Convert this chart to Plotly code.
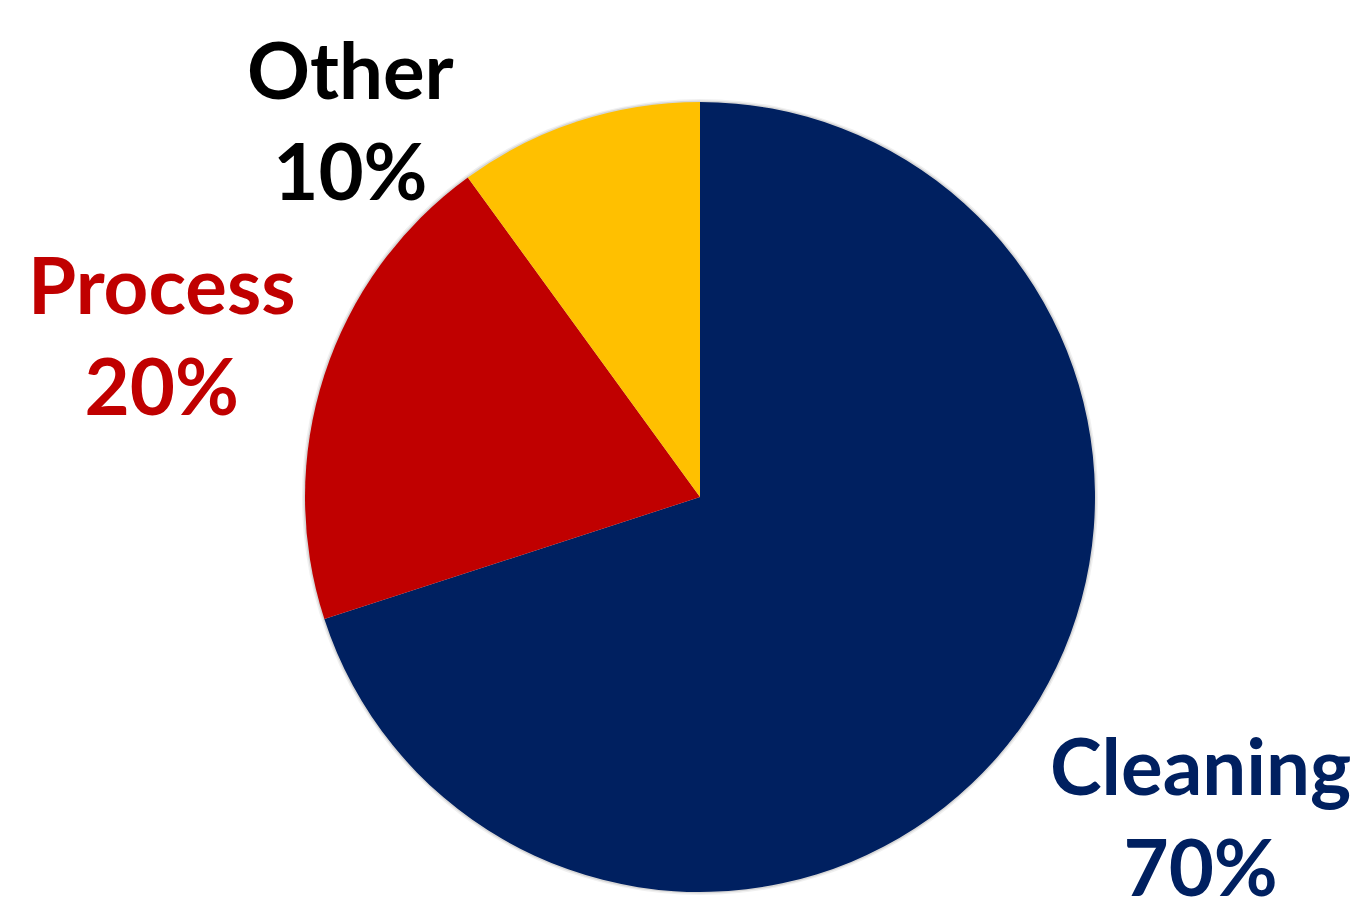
import plotly.graph_objects as go

categories = ["Cleaning", "Process", "Other"]
shares = [70, 20, 10]
colors = ["#002060", "#C00000", "#FFC000"]
text_colors = ["#002060", "#C00000", "#000000"]

# label anchor positions in pixels (layout only)
label_pos = [(1200, 815), (162, 334), (350, 119)]

W, H = 1354, 900
cx, cy, r = 700, 497, 395

fig = go.Figure()
# soft shadow halo behind the pie
for extra, alpha in [(3, 0.06), (1.5, 0.10)]:
    rr = r + extra
    fig.add_trace(go.Pie(
        labels=["shadow"], values=[sum(shares)], sort=False,
        marker=dict(colors=[f"rgba(0,0,0,{alpha})"], line=dict(width=0)),
        textinfo="none", hoverinfo="skip", showlegend=False,
        domain=dict(x=[(cx - rr) / W, (cx + rr) / W], y=[(H - cy - rr) / H, (H - cy + rr) / H]),
    ))
fig.add_trace(go.Pie(
    labels=categories, values=shares, sort=False, direction="clockwise",
    marker=dict(colors=colors, line=dict(width=0)),
    textinfo="none", hoverinfo="label+percent", showlegend=False,
    domain=dict(x=[(cx - r) / W, (cx + r) / W], y=[(H - cy - r) / H, (H - cy + r) / H]),
))

annotations = []
for cat, val, col, (px, py) in zip(categories, shares, text_colors, label_pos):
    annotations.append(dict(
        x=px / W, y=1 - py / H, xref="paper", yref="paper",
        text=f"<b>{cat}<br>{val}%</b>", showarrow=False,
        xanchor="center", yanchor="middle", align="center",
        font=dict(family="Lato", size=78, color=col),
    ))

fig.update_layout(
    width=W, height=H, margin=dict(l=0, r=0, t=0, b=0),
    paper_bgcolor="white", plot_bgcolor="white",
    annotations=annotations,
)
fig.write_html("out.html", config={"displayModeBar": False},
               post_script="document.body.style.margin='0';document.body.style.overflow='hidden';")
